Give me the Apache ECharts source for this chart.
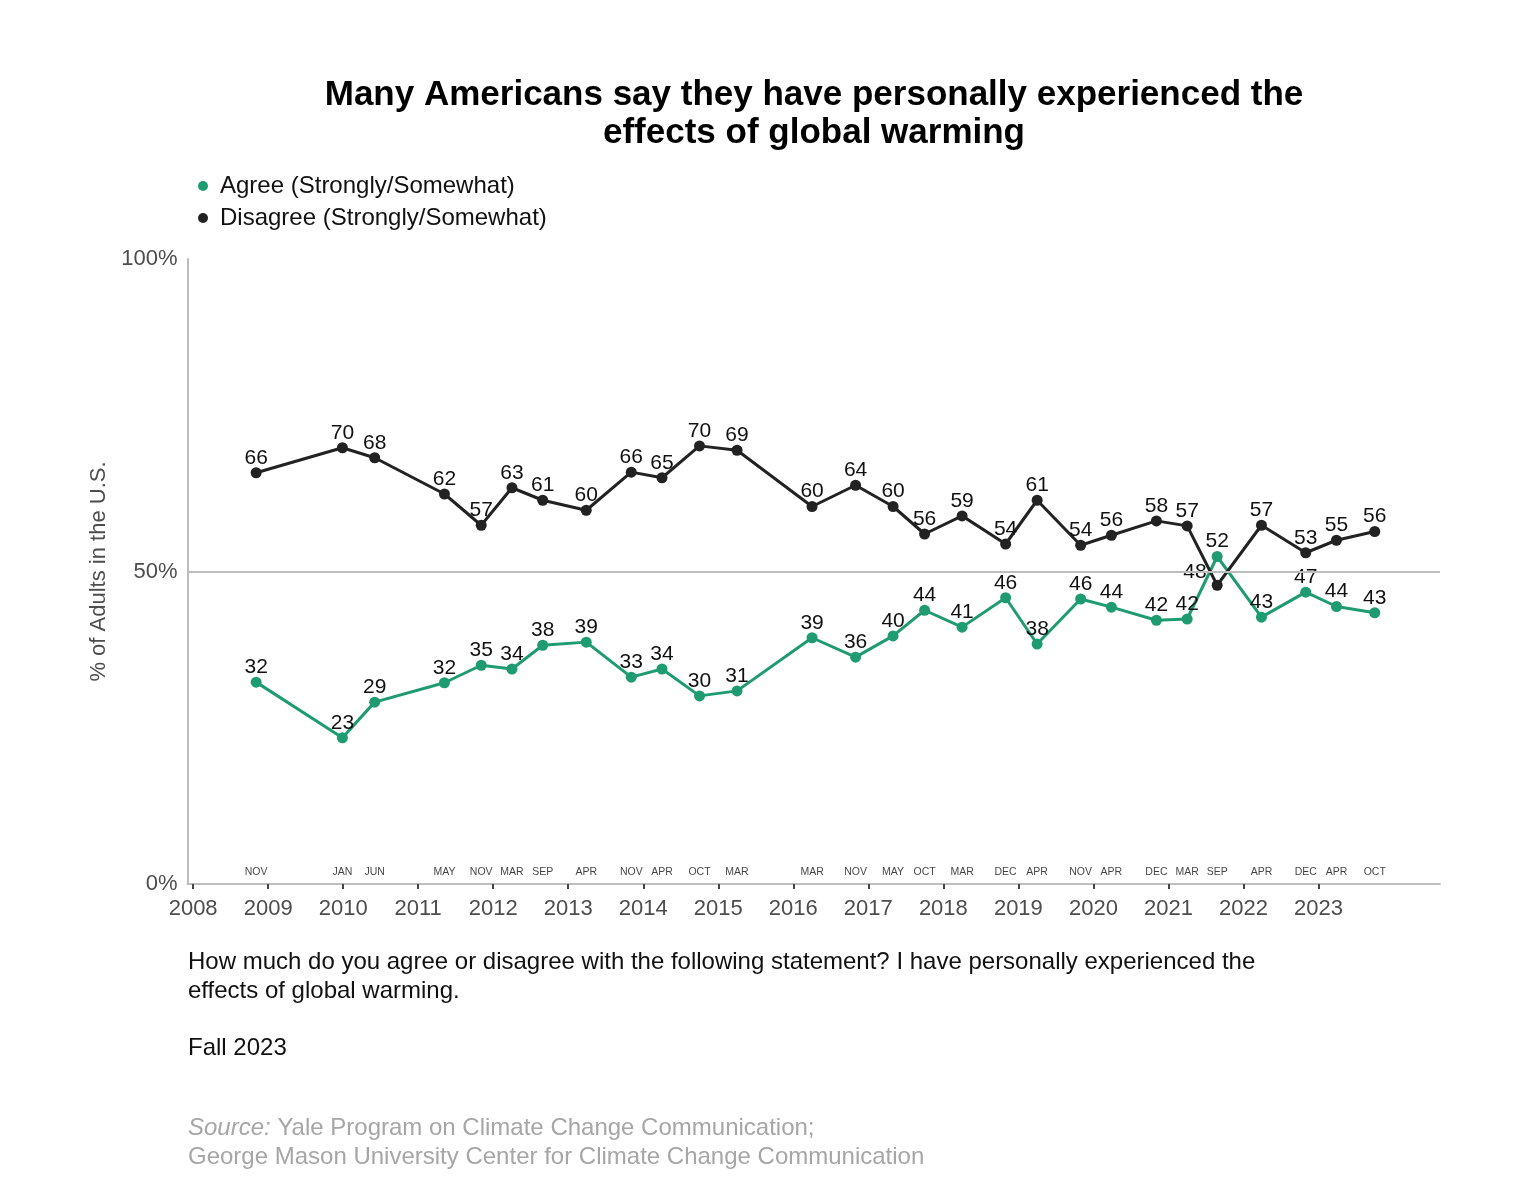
<!DOCTYPE html>
<html>
<head>
<meta charset="utf-8">
<script src="https://cdn.jsdelivr.net/npm/echarts@6/dist/echarts.min.js"></script>
<style>
html,body{margin:0;padding:0;background:#fff;}
#chart{width:1536px;height:1202px;}
</style>
</head>
<body>
<div id="chart"></div>
<script>
// ---- data ----
// survey field dates as decimal years
var dates = [2008.84,2009.99,2010.42,2011.35,2011.84,2012.25,2012.66,2013.24,2013.84,2014.25,2014.75,2015.25,2016.25,2016.83,2017.33,2017.75,2018.25,2018.83,2019.25,2019.83,2020.24,2020.84,2021.25,2021.65,2022.24,2022.83,2023.24,2023.75];
var monthLabels = ['NOV','JAN','JUN','MAY','NOV','MAR','SEP','APR','NOV','APR','OCT','MAR','MAR','NOV','MAY','OCT','MAR','DEC','APR','NOV','APR','DEC','MAR','SEP','APR','DEC','APR','OCT'];
var agree    = [32.3,23.4,29.1,32.2,35.0,34.4,38.2,38.7,33.1,34.4,30.1,30.9,39.4,36.3,39.7,43.8,41.1,45.8,38.4,45.6,44.3,42.2,42.4,52.4,42.7,46.7,44.4,43.4];
var disagree = [65.8,69.8,68.2,62.4,57.4,63.4,61.4,59.8,65.9,65.0,70.1,69.4,60.4,63.8,60.4,56.0,58.9,54.4,61.4,54.2,55.8,58.1,57.3,47.8,57.4,53.0,55.0,56.4];
var yearTicks = [2008,2009,2010,2011,2012,2013,2014,2015,2016,2017,2018,2019,2020,2021,2022,2023];
var yTicks = [0,50,100];

function pairs(vals){ return vals.map(function(v,i){ return [dates[i], v]; }); }

var GREEN = '#1f9b72', BLACK = '#222222', GRAY = '#4d4d4d';
var FONT = '"Liberation Sans", Arial, sans-serif';

var labelBase = {show:true, position:'top', distance:-1, color:'#111', fontSize:21, fontFamily:FONT,
  formatter:function(p){ return Math.round(p.value[1]); }};

var disData = pairs(disagree).map(function(d,i){
  if (i === 23) return {value:d, label:{position:'left', distance:5, offset:[0,-13]}};
  return d;
});

var chart = echarts.init(document.getElementById('chart'));
chart.setOption({
  backgroundColor:'#fff',
  animation:false,
  textStyle:{fontFamily:FONT},
  title:{
    text:'Many Americans say they have personally experienced the\neffects of global warming',
    left:809, top:71, textAlign:'center',
    textStyle:{fontSize:35, fontWeight:'bold', color:'#000', lineHeight:38, fontFamily:FONT}
  },
  legend:{
    data:['Agree (Strongly/Somewhat)','Disagree (Strongly/Somewhat)'],
    orient:'vertical', left:193, top:169, itemGap:8,
    icon:'circle', itemWidth:10, itemHeight:10,
    textStyle:{fontSize:24, color:'#111', fontFamily:FONT, padding:[0,0,0,7]}
  },
  grid:{left:187.5, right:96, top:259, bottom:318, containLabel:false},
  xAxis:{
    type:'value', min:2007.925, max:2024.62,
    splitLine:{show:false},
    axisLine:{show:true, onZero:false, lineStyle:{color:'#bdbdbd', width:2}},
    axisTick:{show:true, customValues:yearTicks, length:5, lineStyle:{color:'#444', width:2}},
    axisLabel:{customValues:yearTicks, fontSize:22, color:GRAY, margin:14, fontFamily:FONT,
      formatter:function(v){ return String(Math.round(v)); }}
  },
  yAxis:{
    type:'value', min:0, max:100, interval:50,
    name:'% of Adults in the U.S.', nameLocation:'middle', nameGap:69,
    nameTextStyle:{fontSize:22, color:GRAY, fontFamily:FONT},
    splitLine:{show:false},
    axisLine:{show:true, lineStyle:{color:'#bdbdbd', width:2}},
    axisTick:{show:false},
    axisLabel:{fontSize:22, color:GRAY, margin:10, fontFamily:FONT, formatter:'{value}%'}
  },
  series:[
    {
      name:'Agree (Strongly/Somewhat)', type:'line', data:pairs(agree),
      color:GREEN, lineStyle:{width:3, color:GREEN}, itemStyle:{color:GREEN},
      symbol:'circle', symbolSize:11, label:labelBase, z:3,
      markLine:{silent:true, symbol:['none','none'], label:{show:false},
        lineStyle:{color:'#bdbdbd', width:2, type:'solid'}, data:[{yAxis:yTicks[1]}]}
    },
    {
      name:'Disagree (Strongly/Somewhat)', type:'line', data:disData,
      color:BLACK, lineStyle:{width:3, color:BLACK}, itemStyle:{color:BLACK},
      symbol:'circle', symbolSize:11, label:labelBase, z:4
    },
    {
      name:'months', type:'scatter', symbolSize:0, silent:true,
      data:dates.map(function(x,i){ return {value:[x,1.9], label:{formatter:monthLabels[i]}}; }),
      label:{show:true, position:'inside', fontSize:10.5, color:'#111', fontFamily:FONT}
    }
  ],
  graphic:[
    {type:'text', left:188, top:948, style:{text:'How much do you agree or disagree with the following statement? I have personally experienced the\neffects of global warming.', fontSize:24, lineHeight:29, fill:'#111', fontFamily:FONT}},
    {type:'text', left:188, top:1036, style:{text:'Fall 2023', fontSize:24, fill:'#111', fontFamily:FONT}},
    {type:'text', left:188, top:1114, style:{
      text:'{i|Source:} Yale Program on Climate Change Communication;\nGeorge Mason University Center for Climate Change Communication',
      fontSize:24, lineHeight:29, fill:'#a6a6a6', fontFamily:FONT,
      rich:{i:{fontStyle:'italic', fontSize:24, fill:'#a6a6a6', fontFamily:FONT}}}}
  ]
});
</script>
</body>
</html>
